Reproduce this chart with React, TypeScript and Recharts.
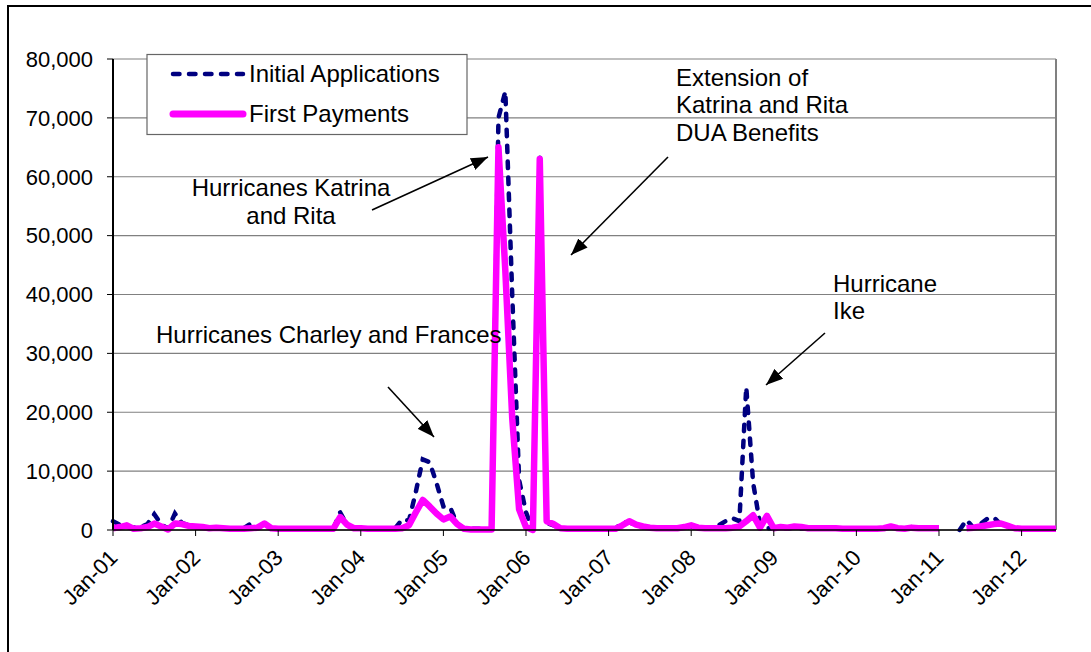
import React from 'react';
import { LineChart, Line, XAxis, YAxis, CartesianGrid, ReferenceLine } from 'recharts';

// Monthly series, Jan-01 .. Jun-12 (138 months)
const initialApplications: (number | null)[] = [
  // 2001
  1500, 900, 600, 400, 500, 1000, 2700, 1000, 200, 2800, 1200, 800,
  // 2002
  600, 400, 300, 300, 200, 200, 200, 300, 1100, 400, 1000, 300,
  // 2003
  200, 200, 200, 200, 200, 200, 200, 200, 200, 3000, 800, 200,
  // 2004
  200, 200, 200, 200, 200, 300, 1800, 1600, 6500, 12000, 11500, 8000,
  // 2005
  4000, 3800, 1000, 300, 200, 200, 200, 100, 70000, 74500, 40000, 8500,
  // 2006
  3000, 0, 64000, 1200, 800, 300, 200, 200, 200, 200, 200, 200,
  // 2007
  200, 200, 1300, 1300, 800, 500, 300, 300, 300, 300, 300, 300,
  // 2008
  600, 300, 300, 300, 800, 1500, 2000, 1500, 24300, 8000, 1000, 300,
  // 2009
  300, 400, 300, 400, 300, 300, 200, 200, 200, 200, 200, 200,
  // 2010
  200, 200, 200, 200, 300, 500, 300, 200, 500, 300, 300, 300,
  // 2011
  300, null, null, 0, 1700, 400, 1000, 1900, 2100, 900, 500, 300,
  // 2012
  200, 200, 200, 200, 200, 200,
];

const firstPayments: (number | null)[] = [
  // 2001
  300, 500, 800, 200, 300, 500, 1100, 600, 100, 1100, 1000, 700,
  // 2002
  600, 500, 300, 400, 300, 200, 200, 200, 300, 400, 1100, 300,
  // 2003
  200, 200, 200, 200, 200, 200, 200, 200, 200, 2200, 900, 300,
  // 2004
  300, 200, 200, 200, 200, 200, 300, 800, 3000, 5100, 4000, 2800,
  // 2005
  1800, 2300, 1000, 200, 100, 100, 100, 100, 65000, 44000, 19000, 3500,
  // 2006
  500, 0, 63000, 1500, 1000, 300, 200, 200, 200, 200, 200, 200,
  // 2007
  200, 200, 800, 1500, 900, 600, 400, 300, 300, 300, 300, 500,
  // 2008
  800, 400, 300, 300, 300, 300, 400, 600, 1500, 2500, 400, 2400,
  // 2009
  300, 500, 400, 600, 500, 300, 300, 300, 300, 300, 200, 200,
  // 2010
  200, 200, 200, 200, 300, 600, 300, 200, 400, 300, 300, 300,
  // 2011
  300, null, null, null, 300, 400, 600, 800, 1000, 1100, 700, 300,
  // 2012
  200, 200, 200, 200, 200, 200,
];

const tickLabels = ['Jan-01', 'Jan-02', 'Jan-03', 'Jan-04', 'Jan-05', 'Jan-06', 'Jan-07', 'Jan-08', 'Jan-09', 'Jan-10', 'Jan-11', 'Jan-12'];
const tickMonthIndex = [0, 12, 24, 36, 48, 60, 72, 84, 96, 108, 120, 132];
const yTicks = [0, 10000, 20000, 30000, 40000, 50000, 60000, 70000, 80000];
const seriesNames = ['Initial Applications', 'First Payments'];

const data = initialApplications.map((v, i) => ({
  m: i,
  initial: v,
  payments: firstPayments[i],
}));

const FONT = '"Liberation Sans", Arial, Helvetica, sans-serif';

const XTick = (props: any) => {
  const { x, y, payload } = props;
  const k = tickMonthIndex.indexOf(payload.value);
  const ax = x + 6;
  const ay = y + 21;
  return (
    <text x={ax} y={ay} transform={`rotate(-45 ${ax} ${ay})`} textAnchor="end" fontSize={22} fill="#000" fontFamily={FONT}>
      {k >= 0 ? tickLabels[k] : ''}
    </text>
  );
};

export default function App() {
  return (
    <div style={{ position: 'absolute', left: 0, top: 0, width: 1091, height: 652, overflow: 'hidden', background: '#fff', fontFamily: FONT }}>
      <div style={{ position: 'absolute', left: 7, top: 5, width: 1200, height: 800, border: '2px solid #000', boxSizing: 'border-box' }} />
      <div style={{ position: 'absolute', left: 0, top: 0 }}>
        <LineChart width={1091} height={652} data={data} margin={{ top: 59, right: 35, bottom: 22, left: 13 }}>
          <CartesianGrid horizontal vertical={false} stroke="#808080" strokeWidth={1.2} />
          <XAxis
            dataKey="m"
            type="number"
            domain={[0, 137]}
            ticks={tickMonthIndex}
            interval={0}
            tick={XTick}
            tickSize={6}
            height={100}
            axisLine={{ stroke: '#000', strokeWidth: 1.5 }}
            tickLine={{ stroke: '#000' }}
          />
          <YAxis
            type="number"
            domain={[0, 80000]}
            ticks={yTicks}
            interval={0}
            width={100}
            tickSize={6}
            tickMargin={14}
            tickFormatter={(v: number) => v.toLocaleString('en-US')}
            tick={{ fill: '#000', fontSize: 22, fontFamily: FONT }}
            axisLine={{ stroke: '#000', strokeWidth: 2 }}
            tickLine={{ stroke: '#000' }}
          />
          <ReferenceLine x={137} stroke="#808080" strokeWidth={2} />
          <Line
            name={seriesNames[0]}
            dataKey="initial"
            type="linear"
            stroke="#000080"
            strokeWidth={4.5}
            strokeDasharray="6.5 9.5"
            strokeLinecap="round"
            dot={false}
            activeDot={false}
            connectNulls={false}
            isAnimationActive={false}
          />
          <Line
            name={seriesNames[1]}
            dataKey="payments"
            type="linear"
            stroke="#FF00FF"
            strokeWidth={6.5}
            strokeLinejoin="round"
            dot={false}
            activeDot={false}
            connectNulls={false}
            isAnimationActive={false}
          />
        </LineChart>
      </div>
      <svg width={1091} height={652} style={{ position: 'absolute', left: 0, top: 0, pointerEvents: 'none' }}>
        <defs>
          <marker id="ah" viewBox="0 0 17 13" refX="17" refY="6.5" markerWidth="17" markerHeight="13" markerUnits="userSpaceOnUse" orient="auto">
            <path d="M0,0 L17,6.5 L0,13 z" fill="#000" />
          </marker>
        </defs>
        {/* legend */}
        <rect x={147} y={54.5} width={320} height={80} fill="#fff" stroke="#666" strokeWidth={1.2} />
        <line x1={173} y1={74} x2={243} y2={74} stroke="#000080" strokeWidth={4.5} strokeDasharray="6.5 9.5" strokeLinecap="round" />
        <text x={249} y={82} fontSize={24} fill="#000" fontFamily={FONT}>{seriesNames[0]}</text>
        <line x1={173} y1={114} x2={243} y2={114} stroke="#FF00FF" strokeWidth={7} strokeLinecap="round" />
        <text x={249} y={122} fontSize={24} fill="#000" fontFamily={FONT}>{seriesNames[1]}</text>

        {/* annotations */}
        <g fontSize={24} fill="#000" fontFamily={FONT}>
          <text x={676} y={86}>Extension of</text>
          <text x={676} y={113}>Katrina and Rita</text>
          <text x={676} y={141}>DUA Benefits</text>
          <text x={291} y={196} textAnchor="middle">Hurricanes Katrina</text>
          <text x={291} y={224} textAnchor="middle">and Rita</text>
          <text x={156} y={343}>Hurricanes Charley and Frances</text>
          <text x={833} y={292}>Hurricane</text>
          <text x={833} y={319}>Ike</text>
        </g>
        <g stroke="#000" strokeWidth={1.6}>
          <line x1={372} y1={210} x2={488} y2={157} markerEnd="url(#ah)" />
          <line x1={668} y1={157} x2={571} y2={255} markerEnd="url(#ah)" />
          <line x1={388} y1={387} x2={434} y2={437} markerEnd="url(#ah)" />
          <line x1={825} y1={333} x2={766} y2={385} markerEnd="url(#ah)" />
        </g>
      </svg>
    </div>
  );
}
